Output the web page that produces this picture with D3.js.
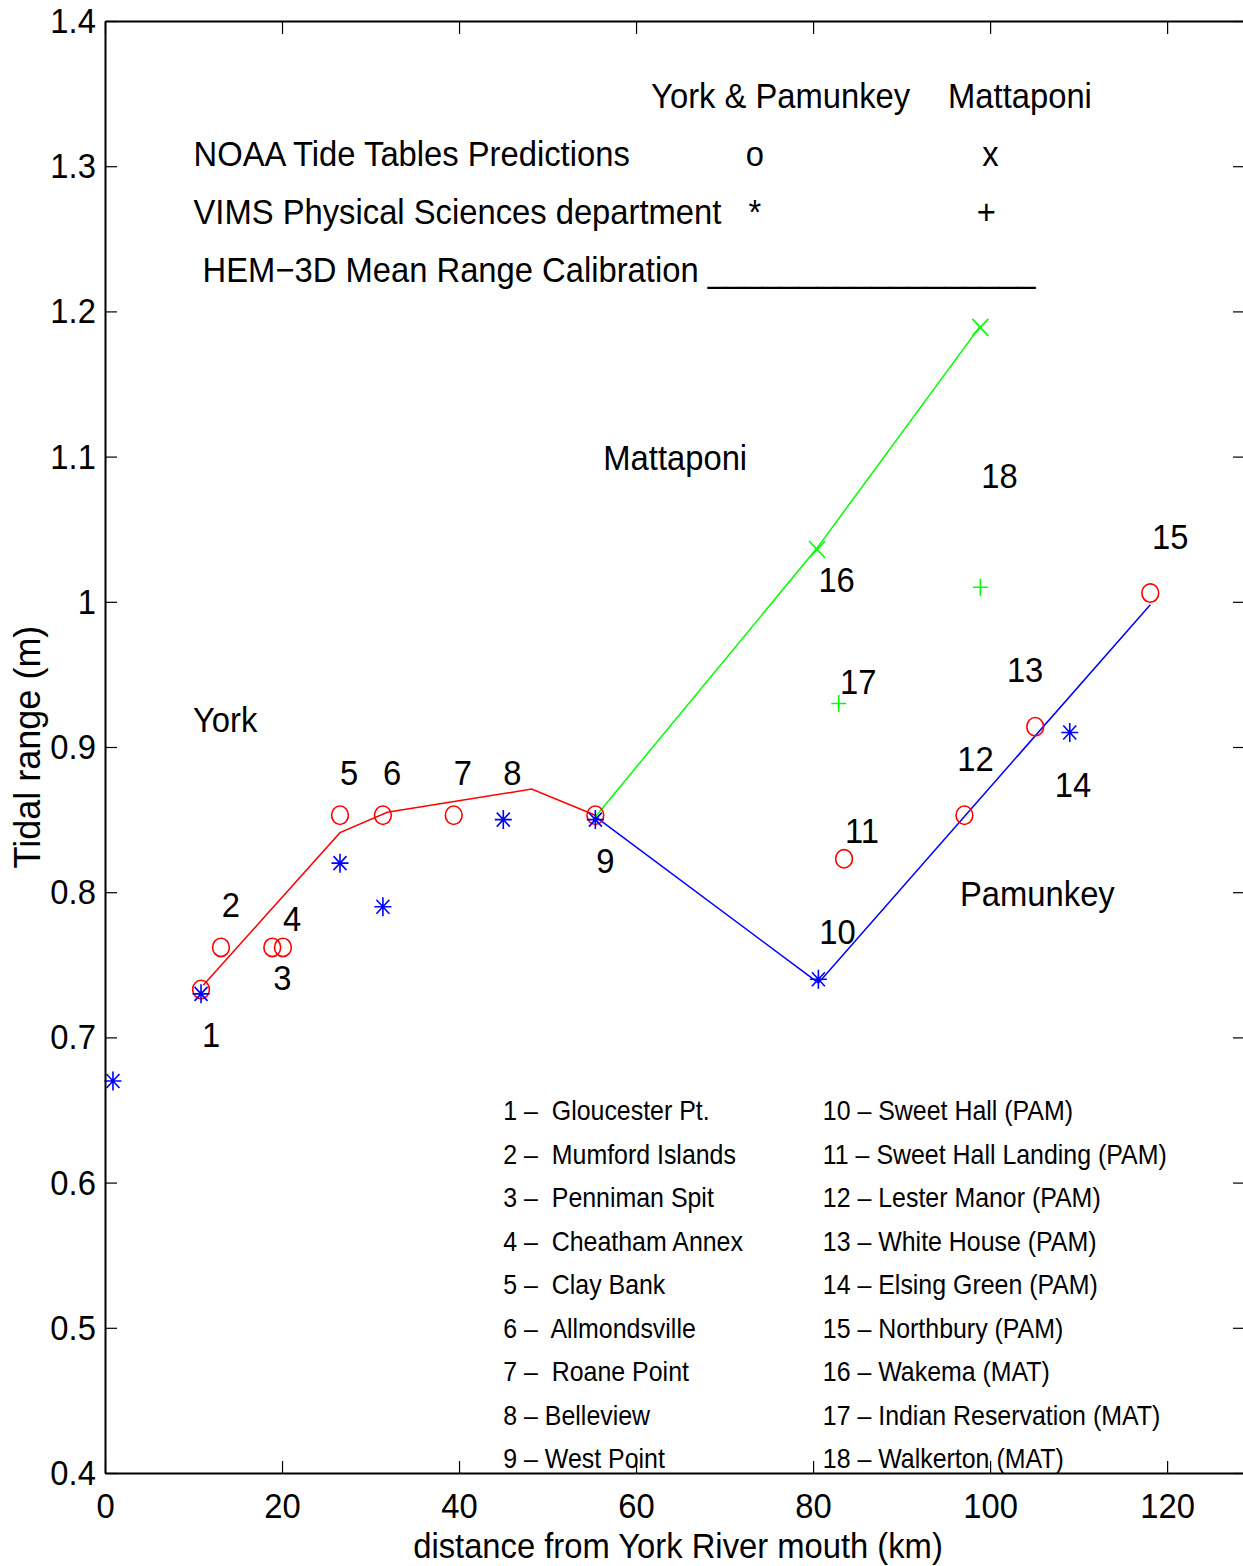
<!DOCTYPE html>
<html>
<head>
<meta charset="utf-8">
<script src="https://cdn.jsdelivr.net/npm/d3@7"></script>
<style>
  html, body { margin: 0; padding: 0; background: #fff; }
  svg { display: block; }
  text { font-family: "Liberation Sans", Arial, Helvetica, sans-serif; fill: #000; white-space: pre; }
</style>
</head>
<body>
<svg id="chart" width="1243" height="1566"></svg>
<script>
// ---- Observed tidal ranges: York & Pamunkey stations (NOAA tide tables, "o")
const noaaYPKm    = [10.85, 13.1, 18.9, 20.1, 26.55, 31.4, 39.4, 55.4, 83.5, 97.1, 105.1, 118.1];
const noaaYPRange = [0.733, 0.762, 0.762, 0.762, 0.853, 0.853, 0.853, 0.853, 0.823, 0.853, 0.914, 1.006];

// ---- VIMS Physical Sciences measurements, York & Pamunkey ("*")
const vimsYPKm    = [0.9, 10.85, 26.55, 31.4, 45.0, 55.4, 80.6, 109.0];
const vimsYPRange = [0.67, 0.73, 0.82, 0.79, 0.85, 0.85, 0.74, 0.91];

// ---- Mattaponi stations: NOAA ("x") and VIMS ("+")
const noaaMatKm    = [80.45, 98.9];
const noaaMatRange = [1.036, 1.189];
const vimsMatKm    = [82.9, 98.9];
const vimsMatRange = [0.93, 1.01];

// ---- HEM-3D mean range calibration (model lines)
const modelYorkKm       = [11.1, 26.55, 31.9, 48.2, 55.4];
const modelYorkRange    = [0.736, 0.841, 0.855, 0.871, 0.853];
const modelPamunkeyKm   = [55.4, 80.6, 118.1];
const modelPamunkeyRange= [0.852, 0.7375, 0.998];
const modelMattaponiKm  = [55.4, 80.45, 98.9];
const modelMattaponiRange=[0.852, 1.037, 1.19];

// ---- Station number labels (placed in data coordinates, left / baseline)
const stationIds      = ['1','2','3','4','5','6','7','8','9','10','11','12','13','14','15','16','17','18'];
const stationLabelKm  = [10.96, 13.2, 19.0, 20.1, 26.55, 31.4, 39.4, 45.0, 55.5, 80.7, 83.6, 96.3, 101.9, 107.3, 118.3, 80.6, 83.05, 99.0];
const stationLabelVal = [0.6934, 0.783, 0.7326, 0.7733, 0.8738, 0.8738, 0.8738, 0.8738, 0.8132, 0.7643, 0.8339, 0.8835, 0.9448, 0.8656, 1.0364, 1.0067, 0.9365, 1.0784];

// ---- River names
const riverNames    = ['York', 'Mattaponi', 'Pamunkey'];
const riverNameKm   = [9.94, 56.3, 96.6];
const riverNameVal  = [0.910, 1.091, 0.7905];

// ---- Symbol key
const keyHeaders    = ['York & Pamunkey', 'Mattaponi'];
const keyHeaderKm   = [61.7, 95.25];
const keyHeaderVal  = 1.340;
const keyRows       = ['NOAA Tide Tables Predictions', 'VIMS Physical Sciences department', ' HEM\u22123D Mean Range Calibration ' + '_'.repeat(18)];
const keyRowVal     = [1.300, 1.260, 1.220];
const keyRowKm      = 10;
const keySymbols    = [['o', 'x'], ['*', '+']];
const keySymbolKm   = [[72.4, 99.1], [72.7, 98.5]];

// ---- Station list
const stationNamesLeft  = ['1 \u2013  Gloucester Pt.', '2 \u2013  Mumford Islands', '3 \u2013  Penniman Spit', '4 \u2013  Cheatham Annex',
                           '5 \u2013  Clay Bank', '6 \u2013  Allmondsville', '7 \u2013  Roane Point', '8 \u2013 Belleview', '9 \u2013 West Point'];
const stationNamesRight = ['10 \u2013 Sweet Hall (PAM)', '11 \u2013 Sweet Hall Landing (PAM)', '12 \u2013 Lester Manor (PAM)', '13 \u2013 White House (PAM)',
                           '14 \u2013 Elsing Green (PAM)', '15 \u2013 Northbury (PAM)', '16 \u2013 Wakema (MAT)', '17 \u2013 Indian Reservation (MAT)', '18 \u2013 Walkerton (MAT)'];
const listKm       = [45.0, 81.1];
const listTopVal   = 0.6431;
const listStepVal  = 0.030;

// ---- Axis ticks
const xTicks = [0, 20, 40, 60, 80, 100, 120];
const yTicks = [0.4, 0.5, 0.6, 0.7, 0.8, 0.9, 1.0, 1.1, 1.2, 1.3, 1.4];
const yTickLabels = ['0.4', '0.5', '0.6', '0.7', '0.8', '0.9', '1', '1.1', '1.2', '1.3', '1.4'];

// ---------------------------------------------------------------------------
const RED = '#ff0000', BLUE = '#0000ff', GREEN = '#00ff00';
const SX = 0.91;         // horizontal squeeze of the Helvetica-like lettering

const svg = d3.select('#chart');
const x = d3.scaleLinear().domain([0, 128.8]).range([105, 1245]);
const y = d3.scaleLinear().domain([0.4, 1.4]).range([1473, 21]);

function label(g, str, px, py, size, anchor, sx) {
  return g.append('text')
    .attr('transform', `translate(${px},${py}) scale(${sx},1)`)
    .attr('font-size', size)
    .attr('text-anchor', anchor || 'start')
    .text(str);
}

const zip = (xs, ys) => xs.map((d, i) => [d, ys[i]]);
const line = d3.line().x(d => x(d[0])).y(d => y(d[1]));

// model lines
const gLines = svg.append('g').attr('fill', 'none').attr('stroke-width', 1.5);
gLines.append('path').attr('d', line(zip(modelYorkKm, modelYorkRange))).attr('stroke', RED);
gLines.append('path').attr('d', line(zip(modelPamunkeyKm, modelPamunkeyRange))).attr('stroke', BLUE);
gLines.append('path').attr('d', line(zip(modelMattaponiKm, modelMattaponiRange))).attr('stroke', GREEN);

// markers
const gMarks = svg.append('g').attr('fill', 'none').attr('stroke-width', 1.6);
gMarks.selectAll('ellipse.noaa').data(zip(noaaYPKm, noaaYPRange)).join('ellipse')
  .attr('class', 'noaa')
  .attr('cx', d => x(d[0])).attr('cy', d => y(d[1]))
  .attr('rx', 8.4).attr('ry', 9.2).attr('stroke', RED);

const asterisk = (cx, cy) =>
  `M${cx - 8.5},${cy}L${cx + 8.5},${cy}M${cx},${cy - 9.5}L${cx},${cy + 9.5}` +
  `M${cx - 6.5},${cy - 7}L${cx + 6.5},${cy + 7}M${cx - 6.5},${cy + 7}L${cx + 6.5},${cy - 7}`;
gMarks.selectAll('path.vims').data(zip(vimsYPKm, vimsYPRange)).join('path')
  .attr('class', 'vims')
  .attr('d', d => asterisk(x(d[0]), y(d[1]))).attr('stroke', BLUE);

const cross = (cx, cy) => `M${cx - 8},${cy - 8.5}L${cx + 8},${cy + 8.5}M${cx - 8},${cy + 8.5}L${cx + 8},${cy - 8.5}`;
gMarks.selectAll('path.noaaMat').data(zip(noaaMatKm, noaaMatRange)).join('path')
  .attr('class', 'noaaMat')
  .attr('d', d => cross(x(d[0]), y(d[1]))).attr('stroke', GREEN);

const plus = (cx, cy) => `M${cx - 7.5},${cy}L${cx + 7.5},${cy}M${cx},${cy - 8.5}L${cx},${cy + 8.5}`;
gMarks.selectAll('path.vimsMat').data(zip(vimsMatKm, vimsMatRange)).join('path')
  .attr('class', 'vimsMat')
  .attr('d', d => plus(x(d[0]), y(d[1]))).attr('stroke', GREEN);

// annotations
const gText = svg.append('g');
stationIds.forEach((s, i) => label(gText, s, x(stationLabelKm[i]), y(stationLabelVal[i]), 36, 'start', SX));
riverNames.forEach((s, i) => label(gText, s, x(riverNameKm[i]), y(riverNameVal[i]), 36, 'start', SX));

keyHeaders.forEach((s, i) => label(gText, s, x(keyHeaderKm[i]), y(keyHeaderVal), 36, 'start', SX));
keyRows.forEach((s, i) => label(gText, s, x(keyRowKm), y(keyRowVal[i]), 36, 'start', SX));
keySymbols.forEach((row, r) => row.forEach((s, c) =>
  label(gText, s, x(keySymbolKm[r][c]), y(keyRowVal[r]), 36, 'start', SX)));

stationNamesLeft.forEach((s, i) => label(gText, s, x(listKm[0]), y(listTopVal - i * listStepVal), 28, 'start', 0.89));
stationNamesRight.forEach((s, i) => label(gText, s, x(listKm[1]), y(listTopVal - i * listStepVal), 28, 'start', 0.89));

// axis titles
label(svg, 'distance from York River mouth (km)', (x.range()[0] + x.range()[1]) / 2 + 3, 1558, 36, 'middle', SX);
svg.append('text')
  .attr('transform', `translate(40,${(y.range()[0] + y.range()[1]) / 2}) rotate(-90)`)
  .attr('font-size', 36).attr('text-anchor', 'middle')
  .text('Tidal range (m)');

// axes (drawn last so ticks sit over the station list)
function styleAxis(g) {
  g.select('.domain').attr('stroke-width', 2);
  g.selectAll('.tick line').attr('stroke-width', 1.2);
  g.selectAll('.tick text')
    .attr('font-size', 36)
    .attr('font-family', '"Liberation Sans", Arial, Helvetica, sans-serif')
    .attr('fill', '#000')
    .attr('transform', `scale(${SX},1)`);
}

svg.append('g').attr('transform', 'translate(0,1473)')
  .call(d3.axisBottom(x).tickValues(xTicks).tickFormat(d3.format('d')).tickSizeInner(-12).tickSizeOuter(0).tickPadding(19))
  .call(styleAxis);
svg.append('g').attr('transform', 'translate(0,21)')
  .call(d3.axisTop(x).tickValues(xTicks).tickFormat('').tickSizeInner(-13).tickSizeOuter(0))
  .call(styleAxis);
svg.append('g').attr('transform', 'translate(105,0)')
  .call(d3.axisLeft(y).tickValues(yTicks).tickFormat((d, i) => yTickLabels[i]).tickSizeInner(-12).tickSizeOuter(0).tickPadding(10))
  .call(styleAxis);
svg.append('g').attr('transform', 'translate(1245,0)')
  .call(d3.axisRight(y).tickValues(yTicks).tickFormat('').tickSizeInner(-12).tickSizeOuter(0))
  .call(styleAxis);
</script>
</body>
</html>
